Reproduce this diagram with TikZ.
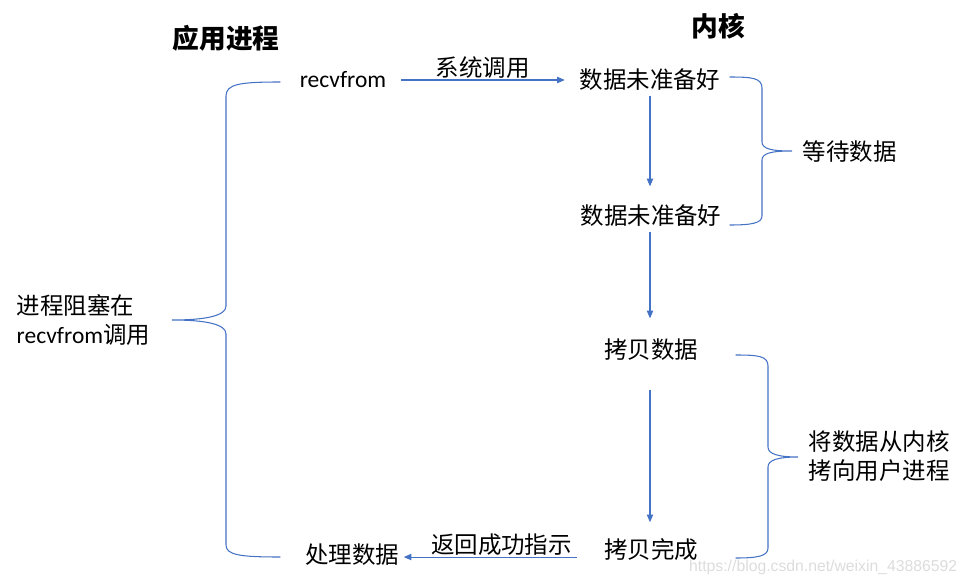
\documentclass[tikz,border=0pt]{standalone}
\usepackage{fontspec}
\setmainfont{Carlito}
\newfontfamily\cjk{Noto Sans CJK SC}
\newfontfamily\wmfont{Liberation Sans}
\usetikzlibrary{arrows.meta, positioning, calc}
\definecolor{cblue}{HTML}{4472C4}
\definecolor{cwater}{HTML}{DCDCDC}
\tikzset{
  every picture/.style={line width=0.75pt},
  txt/.style={font=\cjk\fontsize{16.7}{20.6}\selectfont, inner sep=3pt},
  latin/.style={font=\fontsize{16.7}{20.6}\selectfont, inner sep=3pt},
  head/.style={font=\cjk\bfseries\fontsize{19}{22}\selectfont},
  note/.style={txt, align=left, anchor=west},
  arrow/.style={-{Triangle[length=5.5pt, width=4.5pt]}, draw=cblue},
  brace/.style={draw=cblue, line cap=round},
  watermark/.style={font=\wmfont\fontsize{11.2}{13}\selectfont, text=cwater, anchor=west},
}

\begin{document}
\begin{tikzpicture}[x=0.025cm, y=-0.025cm]
  \useasboundingbox (0,0) rectangle (968,585);
  % titles
  \node[head] (app) at (226,38) {应用进程};
  \node[head] (kernel) at (718,26) {内核};
  % application side
  \node[latin] (recv) at (343,80) {recvfrom};
  \node[txt] (handle) at (352,555) {处理数据};
  % kernel side
  \node[txt] (ask) at (650,80) {数据未准备好};
  \node[txt] (wait) at (651,216) {数据未准备好};
  \node[txt] (copy) at (651,350) {拷贝数据};
  \node[txt] (done) at (651,550) {拷贝完成};
  % calls and steps
  \draw[arrow, shorten <=0.25cm, shorten >=0.25cm] (recv.east) -- (recv.east -| ask.west)
    node[txt, midway, above, inner sep=1pt] (syscall) {系统调用};
  \draw[arrow, shorten >=0.35cm] (ask.south) -- (ask.south |- wait.north);
  \draw[arrow, shorten >=0.4cm] (wait.south -| ask.south) -- (ask.south |- copy.north);
  \draw[arrow, shorten <=0.6cm, shorten >=0.3cm] (copy.south -| ask.south) -- (ask.south |- done.north);
  \draw[arrow, shorten <=0.55cm] ([yshift=-5pt]done.west) -- ([yshift=-5pt]done.west -| handle.east)
    node[txt, midway, above, inner sep=1pt] (reply) {返回成功指示};
  % braces
  \draw[brace] (280,82) .. controls (240,82) and (226,84) .. (226,96) -- (226,306)
    .. controls (226,316) and (205,320) .. (172,320)
    .. controls (205,320) and (226,324) .. (226,334) -- (226,545)
    .. controls (226,555) and (240,557) .. (280,557);
  \draw[brace] (730,77) .. controls (752,77) and (762,78) .. (762,88) -- (762,142)
    .. controls (762,149) and (772,151) .. (792,151)
    .. controls (772,151) and (762,153) .. (762,160) -- (762,216)
    .. controls (762,223) and (752,225) .. (730,225);
  \draw[brace] (736,355) .. controls (758,355) and (768,356) .. (768,366) -- (768,447)
    .. controls (768,454) and (778,457) .. (798,457)
    .. controls (778,457) and (768,460) .. (768,467) -- (768,548)
    .. controls (768,556) and (758,558) .. (736,558);
  % brace notes
  \node[note] (blocked) at (12,320) {进程阻塞在\\{\rmfamily recvfrom}调用};
  \node[note] (waiting) at (798,152) {等待数据};
  \node[note] (copying) at (804,456) {将数据从内核\\拷向用户进程};
  \node[watermark] (url) at (684,567) {https://blog.csdn.net/weixin\_43886592};
\end{tikzpicture}
\end{document}
